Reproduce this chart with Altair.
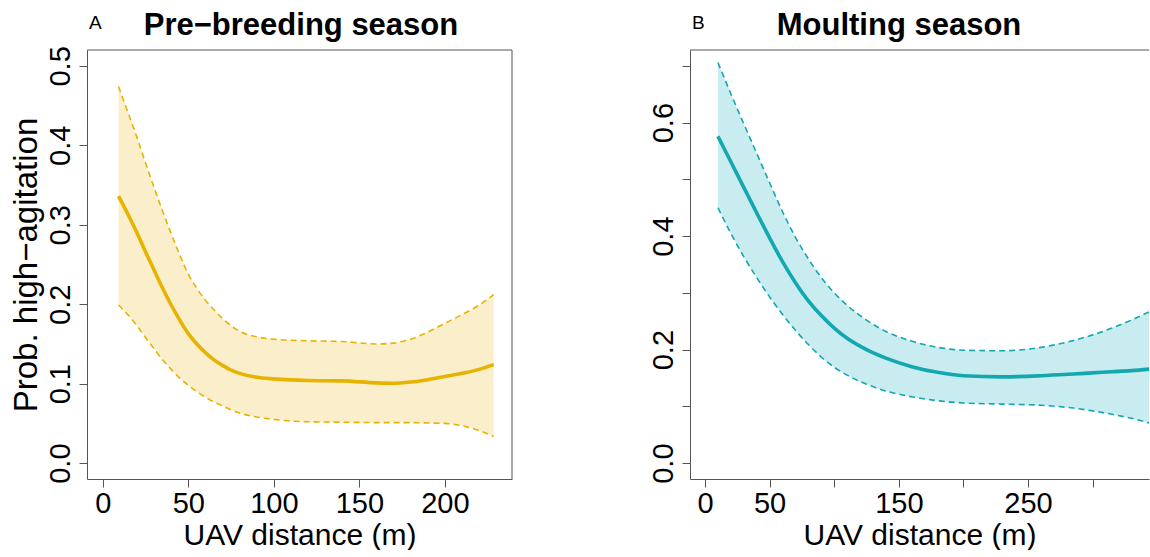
import altair as alt
import pandas as pd

# ---------------- data ----------------
pre_x = [9.2, 15, 20, 25, 30, 35, 40, 45, 50, 55, 60, 65, 70, 75, 80, 90, 100,
         120, 140, 160, 170, 180, 190, 200, 210, 220, 228.5]
pre_fit = [0.336, 0.312, 0.290, 0.266, 0.243, 0.220, 0.199, 0.180, 0.163, 0.150,
           0.139, 0.130, 0.123, 0.117, 0.113, 0.108, 0.106, 0.104, 0.1035, 0.101,
           0.1005, 0.102, 0.105, 0.109, 0.113, 0.118, 0.124]
pre_upper = [0.474, 0.440, 0.410, 0.378, 0.347, 0.317, 0.289, 0.262, 0.238, 0.220,
             0.205, 0.193, 0.182, 0.173, 0.166, 0.159, 0.156, 0.154, 0.153, 0.150,
             0.151, 0.156, 0.165, 0.176, 0.187, 0.199, 0.212]
pre_lower = [0.199, 0.186, 0.173, 0.158, 0.144, 0.130, 0.118, 0.107, 0.098, 0.090,
             0.083, 0.077, 0.072, 0.067, 0.063, 0.058, 0.055, 0.052, 0.0515, 0.051,
             0.051, 0.051, 0.0505, 0.050, 0.047, 0.041, 0.0335]

moult_x = [10, 20, 30, 40, 50, 60, 70, 80, 90, 100, 110, 125, 140, 160, 180, 200,
           230, 260, 285, 300, 315, 330, 345]
moult_fit = [0.576, 0.531, 0.486, 0.441, 0.397, 0.355, 0.318, 0.286, 0.260, 0.238,
             0.220, 0.200, 0.185, 0.170, 0.160, 0.154, 0.152, 0.154, 0.157, 0.159,
             0.161, 0.163, 0.166]
moult_upper = [0.706, 0.651, 0.598, 0.546, 0.494, 0.443, 0.398, 0.360, 0.327, 0.300,
               0.278, 0.252, 0.232, 0.215, 0.204, 0.199, 0.198, 0.204, 0.216, 0.226,
               0.238, 0.252, 0.268]
moult_lower = [0.450, 0.405, 0.364, 0.327, 0.293, 0.262, 0.234, 0.209, 0.187, 0.169,
               0.155, 0.139, 0.127, 0.117, 0.110, 0.106, 0.104, 0.102, 0.097, 0.092,
               0.086, 0.079, 0.070]

pre_xticks = [0, 50, 100, 150, 200]
pre_xlabels = ["0", "50", "100", "150", "200"]
pre_yticks = [0.0, 0.1, 0.2, 0.3, 0.4, 0.5]
pre_ylabels = ["0.0", "0.1", "0.2", "0.3", "0.4", "0.5"]

moult_xticks = [0, 50, 100, 150, 200, 250, 300]
moult_xlabels = ["0", "50", "150", "250"]
moult_yticks = [0.0, 0.1, 0.2, 0.3, 0.4, 0.5, 0.6, 0.7]
moult_ylabels = ["0.0", "0.2", "0.4", "0.6"]

FONT = "Liberation Sans"
H = 429


def panel(xs, fit, up, lo, line_col, fill_col, xdom, ydom, xticks, xlabels,
          yticks, ylabels, width, title, title_x, letter, ytitle):
    df = pd.DataFrame({"x": xs, "fit": fit, "up": up, "lo": lo})
    base = alt.Chart(df)
    xlab = "indexof(" + str(xlabels) + ", datum.label) >= 0 ? datum.label : ''"
    ylab = "indexof(" + str(ylabels) + ", datum.label) >= 0 ? datum.label : ''"
    xs_ = alt.Scale(domain=xdom, nice=False, zero=False)
    ys_ = alt.Scale(domain=ydom, nice=False, zero=False)
    xaxis = alt.Axis(values=xticks, labelExpr=xlab, title="UAV distance (m)",
                     grid=False, domain=True, domainColor="#555555",
                     tickColor="#555555", tickSize=8, labelFontSize=29,
                     labelFont=FONT, labelColor="black", labelPadding=2,
                     titleFont=FONT, titleFontSize=30, titleFontWeight="normal",
                     titleColor="black", titlePadding=2, labelFlush=False,
                     labelOverlap=False)
    yaxis = alt.Axis(values=yticks, labelExpr=ylab, format=".1f",
                     title=ytitle if ytitle else None,
                     grid=False, domain=True, domainColor="#555555",
                     tickColor="#555555", tickSize=8, labelFontSize=29,
                     labelFont=FONT, labelColor="black", labelAngle=270,
                     labelAlign="center", labelBaseline="bottom", labelPadding=4,
                     titleFont=FONT, titleFontSize=33, titleFontWeight="normal",
                     titleColor="black", titlePadding=3, labelFlush=False,
                     labelOverlap=False)
    band = base.mark_area(color=fill_col, interpolate="monotone", clip=True,
                          opacity=1).encode(
        x=alt.X("x:Q", scale=xs_, axis=xaxis),
        y=alt.Y("lo:Q", scale=ys_, axis=yaxis),
        y2="up:Q")
    upper = base.mark_line(color=line_col, strokeWidth=1.6, strokeDash=[6, 4],
                           interpolate="monotone", clip=True).encode(
        x="x:Q", y="up:Q")
    lower = base.mark_line(color=line_col, strokeWidth=1.6, strokeDash=[6, 4],
                           interpolate="monotone", clip=True).encode(
        x="x:Q", y="lo:Q")
    main = base.mark_line(color=line_col, strokeWidth=3.6,
                          interpolate="monotone", clip=True).encode(
        x="x:Q", y="fit:Q")
    lab = alt.Chart(pd.DataFrame({"t": [letter]})).mark_text(
        font=FONT, fontSize=19, align="left", baseline="alphabetic",
        color="black").encode(text="t:N", x=alt.value(2), y=alt.value(-21))
    ttl = alt.Chart(pd.DataFrame({"t": [title]})).mark_text(
        font=FONT, fontSize=31, fontWeight="bold", align="center",
        baseline="alphabetic", color="black").encode(
        text="t:N", x=alt.value(title_x), y=alt.value(-15))
    top = alt.Chart(pd.DataFrame({"t": [0]})).mark_rule(
        color="#555555", strokeWidth=1).encode(y=alt.value(0))
    return alt.layer(band, upper, lower, main, top, lab, ttl).properties(
        width=width, height=H)


left = panel(pre_x, pre_fit, pre_upper, pre_lower, "#E6B400", "#FBEFCB",
             [-9.2, 239.2], [-0.02, 0.52], pre_xticks, pre_xlabels,
             pre_yticks, pre_ylabels, 425, "Pre−breeding season", 214, "A",
             "Prob. high−agitation")
left_right = alt.Chart(pd.DataFrame({"t": [0]})).mark_rule(
    color="#555555", strokeWidth=1).encode(x=alt.value(425))
left = alt.layer(left, left_right)

right = panel(moult_x, moult_fit, moult_upper, moult_lower, "#13A7B0", "#C8ECEF",
              [-11.6, 343.6], [-0.028, 0.728], moult_xticks, moult_xlabels,
              moult_yticks, moult_ylabels, 459, "Moulting season", 209, "B", None)

chart = alt.hconcat(left, right, spacing=136).properties(
    padding={"left": 9, "top": 10, "right": 0, "bottom": 0},
    background="white"
).configure_view(stroke=None)

chart.save("out.html", embed_options={"renderer": "svg", "actions": False})
